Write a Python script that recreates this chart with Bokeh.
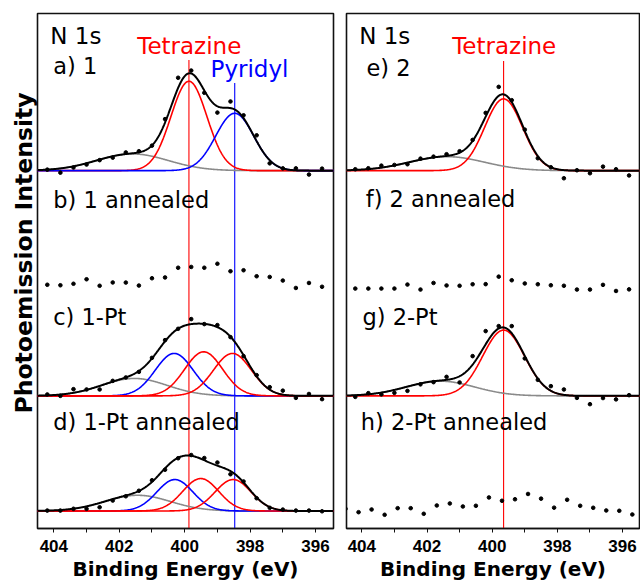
import numpy as np
from bokeh.plotting import figure
from bokeh.layouts import row
from bokeh.models import Range1d, FixedTicker, Label, Title
from bokeh.embed import file_html
from bokeh.resources import INLINE

# ---------------- data ----------------
energy = [404.2, 403.8, 403.4, 403.0, 402.6, 402.2, 401.8, 401.4, 401.0, 400.6, 400.2,
          399.8, 399.4, 399.0, 398.6, 398.2, 397.8, 397.4, 397.0, 396.6, 396.2, 395.8]
energy_h = [404.5, 404.1, 403.7, 403.3, 402.9, 402.5, 402.1, 401.7, 401.3, 400.9, 400.5, 400.1,
            399.7, 399.3, 398.9, 398.5, 398.1, 397.7, 397.3, 396.9, 396.5, 396.1, 395.7]

data_a = [1.0, -2.0, 3.1, 6.1, 10.5, 13.0, 18.2, 19.4, 25.0, 51.5, 92.8,
          100.0, 77.8, 58.0, 69.1, 55.3, 35.3, 7.3, 2.3, 2.3, -3.9, 2.0]
data_b = [5.5, 5.0, 6.5, 11.0, 4.5, 7.8, 7.7, 4.7, 12.0, 12.8, 22.5,
          23.3, 22.5, 26.5, 19.0, 20.0, 14.0, 13.3, 9.7, 2.3, 7.3, 3.5]
data_c = [1.4, 0.0, 6.7, 6.4, 6.4, 15.0, 18.4, 24.0, 38.0, 55.7, 67.0,
          76.7, 71.7, 70.7, 58.7, 39.7, 20.7, 8.7, 5.2, -2.0, 1.9, -3.3]
data_d = [0.4, 0.4, 2.2, 2.2, 3.7, 10.4, 14.7, 20.2, 30.7, 41.2, 52.7,
          55.9, 52.9, 48.4, 36.7, 29.5, 12.7, 3.2, 1.4, 0.4, 0.4, -0.3]
data_e = [1.4, 2.4, 5.0, 5.7, 6.4, 12.0, 14.0, 16.4, 19.4, 30.7, 57.7,
          83.7, 70.4, 41.0, 12.4, 3.4, -7.6, 0.4, -2.6, 4.0, 1.4, -4.8]
data_f = [1.7, 1.7, 1.7, 1.7, 5.7, 0.7, 7.3, 4.8, 4.5, 6.0, 6.1,
          13.6, 10.0, 6.8, 6.0, 5.0, 4.5, 0.7, 0.7, 5.4, -0.7, 0.9]
data_g = [-1.0, 2.7, 1.5, 3.0, 5.0, 11.5, 13.7, 19.0, 13.4, 39.7, 64.7,
          69.7, 69.7, 37.4, 16.0, 9.7, 6.4, -2.0, -8.3, -2.2, -3.5, 0.7]
data_h = [2.2, -1.2, 1.5, -3.8, 2.8, 2.8, -2.8, 5.5, 7.5, 4.5, 5.2, 13.5,
          10.2, 11.7, 17.0, 12.3, 3.3, 11.2, 5.2, 3.2, 0.5, 0.2, -3.5]

# fitted components (centre eV, height, gaussian sigma eV)
a_centers = [401.6, 399.87, 398.47]
a_heights = [16.7, 89.3, 57.3]
a_sigmas = [1.1, 0.55, 0.58]
c_centers = [401.54, 400.32, 399.42, 398.54]
c_heights = [17.4, 42.4, 44.0, 42.4]
c_sigmas = [1.0, 0.58, 0.58, 0.58]
d_centers = [401.44, 400.30, 399.51, 398.52]
d_heights = [15.7, 31.4, 32.4, 31.4]
d_sigmas = [1.0, 0.55, 0.55, 0.55]
e_centers = [401.39, 399.65]
e_heights = [14.0, 71.7]
e_sigmas = [1.15, 0.58]
g_centers = [401.59, 399.65]
g_heights = [14.7, 65.7]
g_sigmas = [1.05, 0.64]

tetrazine_left = 399.87
pyridyl_left = 398.47
tetrazine_right = 399.65

ticks_major = [396, 398, 400, 402, 404]
ticks_minor = [397, 399, 401, 403]

# ---------------- styling / layout ----------------
levels = [357.5, 238.0, 132.5, 17.5]      # vertical stacking of the four spectra
GRAY, RED, BLUE = "#8a8a8a", "#ff0000", "#0000ff"
LABEL_FONT = "DejaVu Sans"
H = 584
BT, BB = 13, 56


def gauss(x, c, h, s):
    return h * np.exp(-(x - c) ** 2 / (2.0 * s * s))


def make_fig(width, xr, bl, br):
    p = figure(width=width, height=H, x_range=Range1d(*xr), y_range=Range1d(0, 514.5),
               output_backend="svg", toolbar_location=None,
               min_border_left=bl, min_border_right=br, min_border_top=BT, min_border_bottom=BB)
    p.grid.visible = False
    p.yaxis.visible = False
    p.outline_line_color = "#111111"
    p.outline_line_width = 1.6
    p.background_fill_color = "white"
    p.border_fill_color = "white"
    ax = p.xaxis[0]
    ax.ticker = FixedTicker(ticks=ticks_major, minor_ticks=ticks_minor)
    ax.major_label_text_font = "Liberation Sans"
    ax.major_label_text_font_style = "bold"
    ax.major_label_text_font_size = "17px"
    ax.major_label_text_color = "black"
    ax.major_tick_in = 0
    ax.major_tick_out = 4
    ax.minor_tick_in = 0
    ax.minor_tick_out = 4
    ax.major_tick_line_color = "#111111"
    ax.minor_tick_line_color = "#111111"
    ax.axis_line_color = "#111111"
    ax.axis_line_width = 1.6
    ax.major_label_standoff = 7
    ax.axis_label = "Binding Energy (eV)"
    ax.axis_label_text_font = LABEL_FONT
    ax.axis_label_text_font_style = "bold"
    ax.axis_label_text_font_size = "20px"
    ax.axis_label_text_color = "black"
    ax.axis_label_standoff = 2
    return p


def draw_fit(p, level, centers, heights, sigmas, colors, order):
    xs = np.linspace(404.7, 395.2, 500)
    comps = [gauss(xs, c, h, s) for c, h, s in zip(centers, heights, sigmas)]
    for i in order:
        p.line(xs, comps[i] + level, line_color=colors[i], line_width=1.6)
    p.line(xs, np.sum(comps, axis=0) + level, line_color="black", line_width=2.0)


def draw_dots(p, xs, ys, level):
    p.scatter(xs, [v + level for v in ys], size=3.6, color="black")


def add_text(p, x, y, text, color="black", align="left", size="22.5px"):
    p.add_layout(Label(x=x, y=y, text=text, text_color=color, text_align=align,
                       text_baseline="alphabetic", text_font=LABEL_FONT,
                       text_font_size=size))


# ---------------- left panel ----------------
p1 = make_fig(338, (404.5, 395.45), 37, 5)
p1.segment(x0=[tetrazine_left], y0=[0], x1=[tetrazine_left], y1=[468], line_color=RED, line_width=1.1)
p1.segment(x0=[pyridyl_left], y0=[0], x1=[pyridyl_left], y1=[445], line_color=BLUE, line_width=1.1)

draw_fit(p1, levels[0], a_centers, a_heights, a_sigmas, [GRAY, RED, BLUE], [0, 1, 2])
draw_dots(p1, energy, data_a, levels[0])
draw_dots(p1, energy, data_b, levels[1])
draw_fit(p1, levels[2], c_centers, c_heights, c_sigmas, [GRAY, BLUE, RED, RED], [0, 1, 2, 3])
draw_dots(p1, energy, data_c, levels[2])
draw_fit(p1, levels[3], d_centers, d_heights, d_sigmas, [GRAY, BLUE, RED, RED], [0, 1, 2, 3])
draw_dots(p1, energy, data_d, levels[3])

add_text(p1, 404.11, 492.3, "N 1s", size="23px")
add_text(p1, 404.02, 461.7, "a) 1")
add_text(p1, 399.86, 481.7, "Tetrazine", RED, "center", size="23px")
add_text(p1, 399.21, 459.0, "Pyridyl", BLUE, size="23px")
add_text(p1, 404.02, 328.3, "b) 1 annealed")
add_text(p1, 404.02, 211.7, "c) 1-Pt")
add_text(p1, 404.02, 106.7, "d) 1-Pt annealed")

p1.add_layout(Title(text="Photoemission Intensity", align="left", offset=115, standoff=0,
                    text_font=LABEL_FONT, text_font_style="bold", text_font_size="23.5px",
                    text_color="black"), "left")

# ---------------- right panel ----------------
p2 = make_fig(302, (404.47, 395.48), 8, 1)
p2.segment(x0=[tetrazine_right], y0=[0], x1=[tetrazine_right], y1=[467], line_color=RED, line_width=1.1)

draw_fit(p2, levels[0], e_centers, e_heights, e_sigmas, [GRAY, RED], [0, 1])
draw_dots(p2, energy, data_e, levels[0])
draw_dots(p2, energy, data_f, levels[1])
draw_fit(p2, levels[2], g_centers, g_heights, g_sigmas, [GRAY, RED], [0, 1])
draw_dots(p2, energy, data_g, levels[2])
draw_dots(p2, energy_h, data_h, levels[3])

add_text(p2, 404.08, 492.3, "N 1s", size="23px")
add_text(p2, 403.86, 460.0, "e) 2")
add_text(p2, 399.63, 481.7, "Tetrazine", RED, "center", size="23px")
add_text(p2, 403.88, 329.0, "f) 2 annealed")
add_text(p2, 403.98, 211.7, "g) 2-Pt")
add_text(p2, 404.03, 106.7, "h) 2-Pt annealed")

layout = row(p1, p2)
open("out.html", "w").write(file_html(layout, INLINE))
